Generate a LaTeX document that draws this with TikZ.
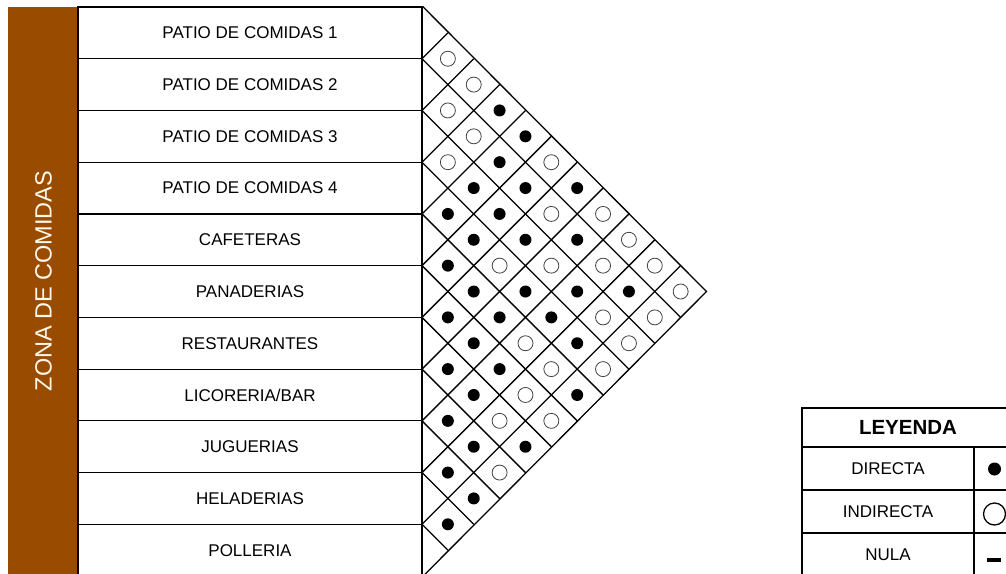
\documentclass[tikz,border=0pt]{standalone}
\usepackage{fontspec}
\setmainfont{Liberation Sans}
\definecolor{zona}{RGB}{153,76,0}
\definecolor{zonatext}{RGB}{255,248,235}
\begin{document}
\begin{tikzpicture}[x=1pt,y=-1pt,
  rowbox/.style={draw=black,line width=1.2pt,minimum width=344pt,minimum height=51.73pt,inner sep=0pt,font=\fontsize{17}{20}\selectfont},
  dotdir/.style={circle,fill=black,minimum size=12pt,inner sep=0pt},
  dotind/.style={circle,draw=black!75,line width=0.8pt,minimum size=15pt,inner sep=0pt},
  gridline/.style={line width=1.3pt,black},
  legcell/.style={draw=black,line width=1.2pt,inner sep=0pt,font=\fontsize{17}{20}\selectfont}]
\useasboundingbox (0,0) rectangle (1006,573);
\clip (0,0) rectangle (1006,573);
\def\rh{51.73}
% left bar
\fill[zona] (8,7) rectangle (78,580);
\node[rotate=90, text=zonatext, font=\fontsize{23.5}{28}\selectfont] (zona) at (43.5,281) {ZONA DE COMIDAS};
% rows
\foreach \t [count=\i] in {PATIO DE COMIDAS 1,PATIO DE COMIDAS 2,PATIO DE COMIDAS 3,PATIO DE COMIDAS 4,CAFETERAS,PANADERIAS,RESTAURANTES,LICORERIA/BAR,JUGUERIAS,HELADERIAS,POLLERIA}
  \node[rowbox] (r\i) at (250, {7+\rh*(\i-0.5)}) {\t};
% triangle grid
\draw[gridline] (r1.north east) -- ({422+5.5*\rh},{7+5.5*\rh}) coordinate (apex) -- (r11.south east);
\foreach \k in {1,...,10} {
  \pgfmathsetmacro\yk{7+\k*\rh}
  \pgfmathsetmacro\dn{(11-\k)*\rh/2}
  \pgfmathsetmacro\up{\k*\rh/2}
  \draw[gridline] (422,\yk) -- ++(\dn,\dn);
  \draw[gridline] (422,\yk) -- ++(\up,-\up);
}
% relationships
\foreach \i/\j/\s in {
 1/2/dotind,1/3/dotind,1/4/dotdir,1/5/dotdir,1/6/dotind,1/7/dotdir,1/8/dotind,1/9/dotind,1/10/dotind,1/11/dotind,
 2/3/dotind,2/4/dotind,2/5/dotdir,2/6/dotdir,2/7/dotind,2/8/dotdir,2/9/dotind,2/10/dotdir,2/11/dotind,
 3/4/dotind,3/5/dotdir,3/6/dotdir,3/7/dotdir,3/8/dotind,3/9/dotdir,3/10/dotind,3/11/dotind,
 4/5/dotdir,4/6/dotdir,4/7/dotind,4/8/dotdir,4/9/dotdir,4/10/dotdir,4/11/dotind,
 5/6/dotdir,5/7/dotdir,5/8/dotdir,5/9/dotind,5/10/dotind,5/11/dotdir,
 6/7/dotdir,6/8/dotdir,6/9/dotdir,6/10/dotind,6/11/dotind,
 7/8/dotdir,7/9/dotdir,7/10/dotind,7/11/dotdir,
 8/9/dotdir,8/10/dotdir,8/11/dotind,
 9/10/dotdir,9/11/dotdir,
 10/11/dotdir}
  \node[\s] (c\i-\j) at ({422+(\j-\i)*\rh/2}, {7+\rh*((\i+\j)/2-0.5)}) {};
% legend
\node[legcell, minimum width=212pt, minimum height=39pt, font=\bfseries\fontsize{20.5}{24}\selectfont] (leg) at (908,427.5) {LEYENDA};
\node[legcell, minimum width=172pt, minimum height=43pt] (l1) at (888,468.5) {DIRECTA};
\node[legcell, minimum width=172pt, minimum height=43pt] (l2) at (888,511.5) {INDIRECTA};
\node[legcell, minimum width=172pt, minimum height=43pt] (l3) at (888,554.5) {NULA};
\node[legcell, minimum width=40pt, minimum height=43pt] (s1) at (994,468.5) {};
\node[legcell, minimum width=40pt, minimum height=43pt] (s2) at (994,511.5) {};
\node[legcell, minimum width=40pt, minimum height=43pt] (s3) at (994,554.5) {};
\node[dotdir, minimum size=13pt] (sd) at (994.5,469) {};
\node[circle, draw=black, line width=1.3pt, minimum size=22pt, inner sep=0pt] (si) at (994.5,514) {};
\node[fill=black, minimum width=14pt, minimum height=4pt, inner sep=0pt] (sn) at (994,560) {};
\end{tikzpicture}
\end{document}
